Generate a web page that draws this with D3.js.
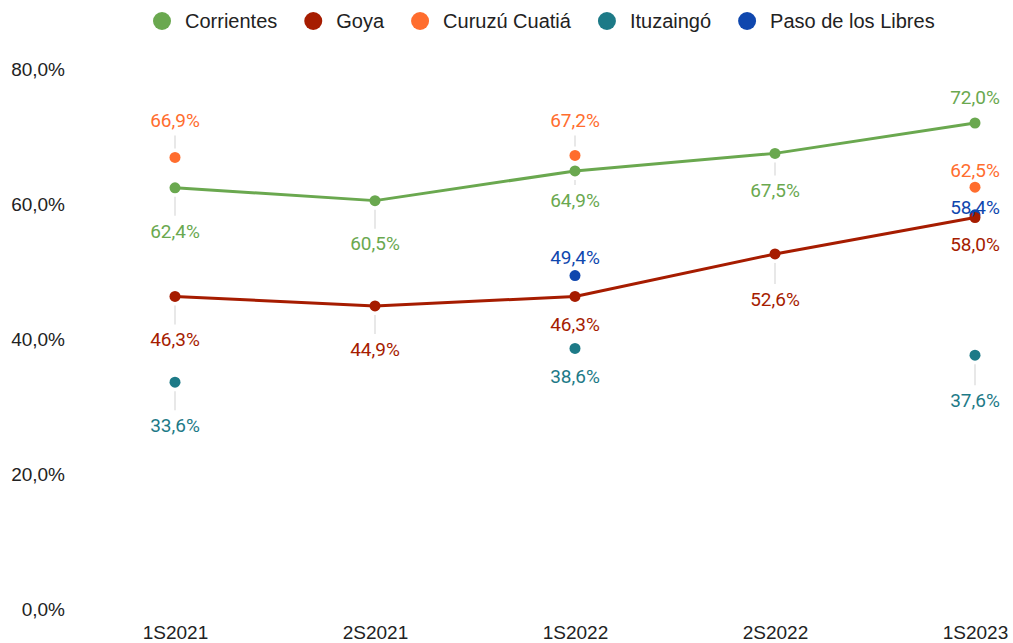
<!DOCTYPE html>
<html>
<head>
<meta charset="utf-8">
<script src="https://cdn.jsdelivr.net/npm/d3@7"></script>
<style>
  html, body { margin: 0; padding: 0; background: #fff; }
  svg { display: block; }
</style>
</head>
<body>
<svg id="chart" width="1013" height="643"></svg>
<script>
// ---- data ----
const categories = ["1S2021", "2S2021", "1S2022", "2S2022", "1S2023"];
const seriesNames = ["Corrientes", "Goya", "Curuzú Cuatiá", "Ituzaingó", "Paso de los Libres"];
const corrientes = [62.4, 60.5, 64.9, 67.5, 72.0];
const goya = [46.3, 44.9, 46.3, 52.6, 58.0];
const curuzu = [66.9, null, 67.2, null, 62.5];
const ituzaingo = [33.6, null, 38.6, null, 37.6];
const pasoLibres = [null, null, 49.4, null, 58.4];
const yTicks = [0, 20, 40, 60, 80];

// ---- style / layout config ----
const colors = ["#6aa84f", "#a61c00", "#ff6d2e", "#1d7a87", "#0f47ae"];
const drawLine = [true, true, false, false, false];
// label vertical offset (px, label centre relative to point)
const labelDy = [
  [43, 43, 29, 37, -26],
  [43, 43, 28, 45, 27],
  [-37, 0, -35, 0, -17],
  [43, 0, 28, 0, 45],
  [0, 0, -18, 0, -8]
];

const values = [corrientes, goya, curuzu, ituzaingo, pasoLibres];

const svg = d3.select("#chart");
const x = d3.scalePoint().domain(categories).range([175, 975]);
const y = d3.scaleLinear().domain([0, 80]).range([609, 69]);

const locale = d3.formatLocale({decimal: ",", thousands: ".", grouping: [3], currency: ["$", ""]});
const fmt = v => locale.format(".1f")(v) + "%";

// y axis
const yAxis = svg.append("g")
  .attr("transform", "translate(70,0)")
  .call(d3.axisLeft(y).tickValues(yTicks).tickSize(0).tickPadding(5).tickFormat(d => fmt(d)));
yAxis.select(".domain").remove();
yAxis.selectAll("text")
  .attr("font-family", "'Liberation Sans', Arial, sans-serif")
  .attr("font-size", 19)
  .attr("fill", "#222")
  .attr("dy", "0.35em");

// x axis
const xAxis = svg.append("g")
  .attr("transform", "translate(0,609)")
  .call(d3.axisBottom(x).tickSize(0).tickPadding(0));
xAxis.select(".domain").remove();
xAxis.selectAll("text")
  .attr("font-family", "'Liberation Sans', Arial, sans-serif")
  .attr("font-size", 19)
  .attr("fill", "#222")
  .attr("y", 23)
  .attr("dy", "0.35em");

// leader lines
const leaders = svg.append("g");
values.forEach((vals, si) => {
  vals.forEach((v, i) => {
    if (v == null) return;
    const dy = labelDy[si][i];
    const py = y(v);
    const dir = dy > 0 ? 1 : -1;
    const y1 = py + dir * 9;
    const y2 = py + dy - dir * 15;
    if ((y2 - y1) * dir > 4) {
      leaders.append("line")
        .attr("x1", x(categories[i])).attr("x2", x(categories[i]))
        .attr("y1", y1).attr("y2", y2)
        .attr("stroke", "#e0e0e0").attr("stroke-width", 1.5);
    }
  });
});

// lines
values.forEach((vals, si) => {
  if (!drawLine[si]) return;
  const line = d3.line()
    .defined(d => d != null)
    .x((d, i) => x(categories[i]))
    .y(d => y(d));
  svg.append("path")
    .datum(vals)
    .attr("d", line)
    .attr("fill", "none")
    .attr("stroke", colors[si])
    .attr("stroke-width", 3)
    .attr("stroke-linejoin", "round");
});

// points
const order = [2, 3, 4, 0, 1];
order.forEach(si => {
  const vals = values[si];
  svg.append("g").selectAll("circle")
    .data(vals.map((v, i) => ({v, i})).filter(d => d.v != null))
    .join("circle")
    .attr("cx", d => x(categories[d.i]))
    .attr("cy", d => y(d.v))
    .attr("r", 5.5)
    .attr("fill", colors[si]);
});

// labels
values.forEach((vals, si) => {
  svg.append("g").selectAll("text")
    .data(vals.map((v, i) => ({v, i})).filter(d => d.v != null))
    .join("text")
    .attr("x", d => x(categories[d.i]))
    .attr("y", d => y(d.v) + labelDy[si][d.i])
    .attr("dy", "0.36em")
    .attr("text-anchor", "middle")
    .attr("font-family", "Roboto, 'Noto Sans', sans-serif")
    .attr("font-size", 19)
    .attr("fill", colors[si])
    .text(d => fmt(d.v));
});

// legend
const legend = svg.append("g");
let lx = 153;
seriesNames.forEach((name, si) => {
  legend.append("circle")
    .attr("cx", lx + 9).attr("cy", 21).attr("r", 9)
    .attr("fill", colors[si]);
  const t = legend.append("text")
    .attr("x", lx + 32).attr("y", 21).attr("dy", "0.35em")
    .attr("font-family", "'Liberation Sans', Arial, sans-serif")
    .attr("font-size", 20)
    .attr("fill", "#222")
    .text(name);
  lx += 32 + t.node().getComputedTextLength() + 27;
});
</script>
</body>
</html>
